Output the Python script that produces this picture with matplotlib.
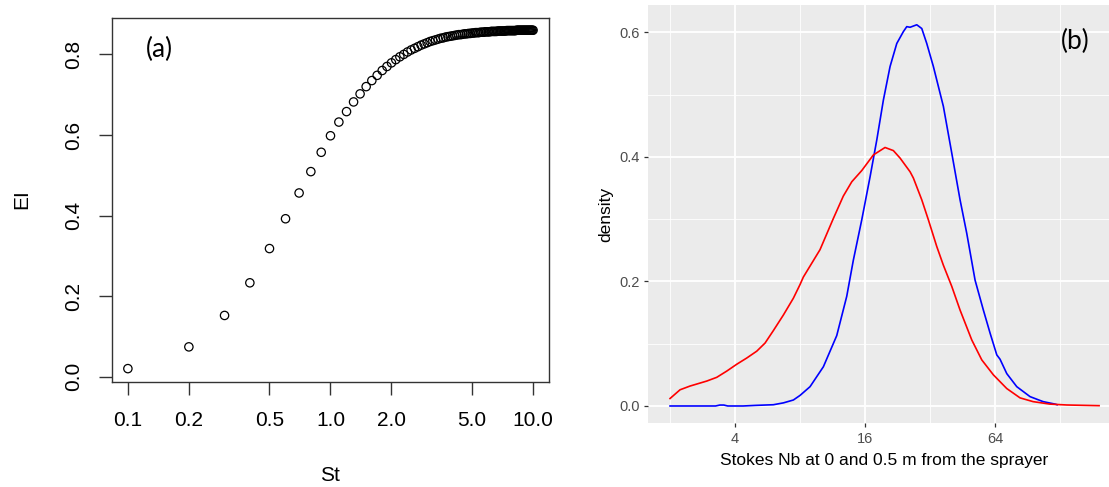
import numpy as np
import matplotlib.pyplot as plt
from matplotlib.ticker import FixedLocator, NullLocator, NullFormatter

# ---- data: panel (a) ----
st = [0.1, 0.2, 0.3, 0.4, 0.5, 0.6, 0.7, 0.8, 0.9, 1.0,
      1.1, 1.2, 1.3, 1.4, 1.5, 1.6, 1.7, 1.8, 1.9, 2.0,
      2.1, 2.2, 2.3, 2.4, 2.5, 2.6, 2.7, 2.8, 2.9, 3.0,
      3.1, 3.2, 3.3, 3.4, 3.5, 3.6, 3.7, 3.8, 3.9, 4.0,
      4.1, 4.2, 4.3, 4.4, 4.5, 4.6, 4.7, 4.8, 4.9, 5.0,
      5.1, 5.2, 5.3, 5.4, 5.5, 5.6, 5.7, 5.8, 5.9, 6.0,
      6.1, 6.2, 6.3, 6.4, 6.5, 6.6, 6.7, 6.8, 6.9, 7.0,
      7.1, 7.2, 7.3, 7.4, 7.5, 7.6, 7.7, 7.8, 7.9, 8.0,
      8.1, 8.2, 8.3, 8.4, 8.5, 8.6, 8.7, 8.8, 8.9, 9.0,
      9.1, 9.2, 9.3, 9.4, 9.5, 9.6, 9.7, 9.8, 9.9, 10.0]
ei = [0.020, 0.074, 0.152, 0.233, 0.318, 0.392, 0.456, 0.509, 0.557, 0.598,
      0.632, 0.658, 0.682, 0.702, 0.720, 0.735, 0.748, 0.760, 0.770, 0.779,
      0.787, 0.794, 0.800, 0.806, 0.811, 0.815, 0.819, 0.823, 0.826, 0.829,
      0.832, 0.834, 0.836, 0.838, 0.840, 0.841, 0.843, 0.844, 0.845, 0.846,
      0.847, 0.848, 0.849, 0.849, 0.850, 0.851, 0.851, 0.852, 0.852, 0.853,
      0.853, 0.854, 0.854, 0.854, 0.855, 0.855, 0.855, 0.856, 0.856, 0.856,
      0.856, 0.857, 0.857, 0.857, 0.857, 0.857, 0.858, 0.858, 0.858, 0.858,
      0.858, 0.858, 0.858, 0.859, 0.859, 0.859, 0.859, 0.859, 0.859, 0.859,
      0.859, 0.859, 0.860, 0.860, 0.860, 0.860, 0.860, 0.860, 0.860, 0.860,
      0.860, 0.860, 0.860, 0.860, 0.860, 0.860, 0.860, 0.860, 0.860, 0.860]
a_xticks = [0.1, 0.2, 0.5, 1.0, 2.0, 5.0, 10.0]
a_xlabels = ["0.1", "0.2", "0.5", "1.0", "2.0", "5.0", "10.0"]
a_yticks = [0.0, 0.2, 0.4, 0.6, 0.8]

# ---- data: panel (b), density curves ----
red_x = [2.00, 2.225, 2.475, 2.958, 3.291, 3.661, 4.073, 4.532, 5.042, 5.508,
         6.018, 6.696, 7.449, 8.0, 8.287, 9.90, 11.41, 12.69, 13.89, 15.45,
         17.48, 19.80, 21.64, 23.24, 25.86, 26.78, 29.29, 31.42, 34.37, 36.88,
         40.33, 44.06, 49.92, 55.54, 62.85, 72.50, 83.54, 95.96, 115.0, 137.5, 194.0]
red_y = [0.012, 0.026, 0.032, 0.040, 0.046, 0.056, 0.067, 0.077, 0.088, 0.101,
         0.121, 0.146, 0.173, 0.195, 0.207, 0.251, 0.301, 0.337, 0.360, 0.378,
         0.403, 0.415, 0.410, 0.398, 0.376, 0.366, 0.331, 0.299, 0.256, 0.226,
         0.192, 0.154, 0.106, 0.074, 0.050, 0.028, 0.013, 0.007, 0.003, 0.0016, 0.0005]
blue_x = [2.00, 3.25, 3.40, 3.55, 3.70, 4.36, 5.0, 6.018, 6.70, 7.45, 8.0,
          8.90, 10.26, 11.83, 13.16, 14.12, 15.45, 16.88, 18.13, 19.45, 20.89,
          22.44, 24.07, 24.96, 25.86, 27.77, 29.29, 30.89, 33.15, 36.88, 40.33,
          44.06, 47.33, 51.71, 56.49, 60.68, 65.18, 67.50, 72.50, 80.66, 92.94,
          106.8, 121.4, 124.0]
blue_y = [0.000, 0.000, 0.0015, 0.0015, 0.000, 0.000, 0.001, 0.002, 0.005, 0.0096, 0.017,
          0.031, 0.063, 0.113, 0.176, 0.234, 0.299, 0.368, 0.427, 0.491, 0.545,
          0.582, 0.601, 0.609, 0.608, 0.612, 0.606, 0.582, 0.545, 0.481, 0.406,
          0.331, 0.277, 0.202, 0.154, 0.117, 0.082, 0.075, 0.052, 0.031, 0.015,
          0.007, 0.003, 0.002]
b_xticks = [4, 16, 64]
b_xminor = [2, 8, 32, 128]
b_yticks = [0.0, 0.2, 0.4, 0.6]
b_yminor = [0.1, 0.3, 0.5]

plt.rcParams['font.family'] = ['Liberation Sans', 'DejaVu Sans']

fig = plt.figure(figsize=(11.09, 4.87), dpi=100)

# ---------- (a) base-R style scatter ----------
ax1 = fig.add_axes([0.1007, 0.2166, 0.3946, 0.747])
ax1.scatter(st, ei, s=36, facecolors='none', edgecolors='black', linewidths=0.9)
ax1.set_xscale('log')
ax1.set_xlim(10 ** -1.08, 10 ** 1.08)
ax1.set_ylim(-0.012, 0.891)
ax1.xaxis.set_major_locator(FixedLocator(a_xticks))
ax1.xaxis.set_minor_locator(NullLocator())
ax1.set_xticklabels(a_xlabels)
ax1.set_yticks(a_yticks)
ax1.set_yticklabels(["%.1f" % v for v in a_yticks])
ax1.tick_params(axis='both', length=9.5, width=1, color='#333333', labelsize=15)
ax1.tick_params(axis='x', pad=12)
ax1.tick_params(axis='y', pad=11, labelrotation=90)
for lab in ax1.get_yticklabels():
    lab.set_va('center')
for s in ax1.spines.values():
    s.set_color('#333333')
    s.set_linewidth(1)
ax1.set_xlabel('St', fontsize=15, va='center')
ax1.xaxis.set_label_coords(0.5, -0.257)
ax1.set_ylabel('EI', fontsize=15, va='center')
ax1.yaxis.set_label_coords(-0.206, 0.5)
ax1.text(0.110, 0.914, '(a)', transform=ax1.transAxes, fontsize=19,
         family=['Lato', 'DejaVu Sans'], ha='center', va='center')

# ---------- (b) ggplot style density ----------
ax2 = fig.add_axes([0.5846, 0.1308, 0.4258, 0.8590])
ax2.set_facecolor('#EBEBEB')
ax2.set_xscale('log', base=2)
ax2.set_xlim(2 ** 0.666, 2 ** 7.93)
ax2.set_ylim(-0.0278, 0.6438)
ax2.xaxis.set_major_locator(FixedLocator(b_xticks))
ax2.xaxis.set_minor_locator(FixedLocator(b_xminor))
ax2.xaxis.set_minor_formatter(NullFormatter())
ax2.set_xticklabels([str(v) for v in b_xticks])
ax2.set_yticks(b_yticks)
ax2.set_yticklabels(["%.1f" % v for v in b_yticks])
ax2.yaxis.set_minor_locator(FixedLocator(b_yminor))
ax2.grid(which='major', color='white', linewidth=1.3)
ax2.grid(which='minor', color='white', linewidth=0.6)
ax2.set_axisbelow(True)
for s in ax2.spines.values():
    s.set_visible(False)
ax2.tick_params(which='major', length=3, width=0.9, color='#333333',
                labelcolor='#4D4D4D', labelsize=10.5, pad=3)
ax2.tick_params(which='minor', length=0)

ax2.plot(blue_x, blue_y, color='blue', linewidth=1.2)
ax2.plot(red_x, red_y, color='red', linewidth=1.2)

ax2.set_xlabel('Stokes Nb at 0 and 0.5 m from the sprayer', fontsize=12.5, va='center')
ax2.xaxis.set_label_coords(0.5, -0.090)
ax2.set_ylabel('density', fontsize=12.5, va='center')
ax2.yaxis.set_label_coords(-0.0896, 0.5)
ax2.text(0.9047, 0.9139, '(b)', transform=ax2.transAxes, fontsize=19,
         family=['Lato', 'DejaVu Sans'], ha='center', va='center')

fig.savefig('out.png', dpi=100)
